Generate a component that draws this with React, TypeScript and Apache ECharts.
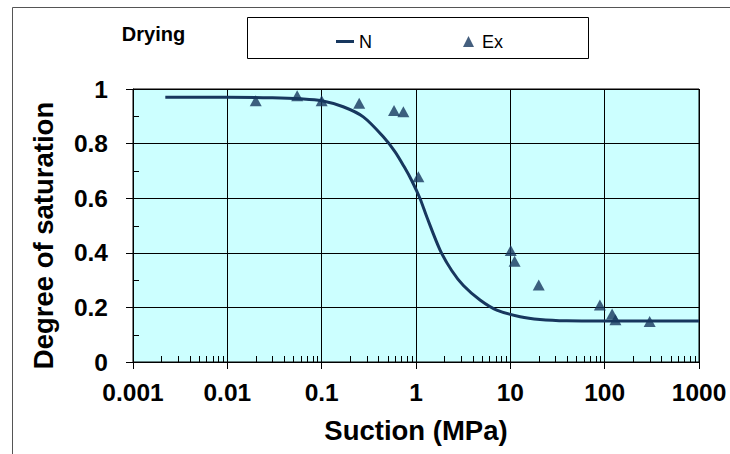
import React, { useEffect, useRef } from 'react';
import * as echarts from 'echarts';

// Fitted curve "N"
const curveX = [0.0022, 0.01, 0.03, 0.06, 0.1, 0.169, 0.276, 0.45, 0.6, 0.75, 0.9, 1.1, 1.3, 1.8, 2.39, 3.18, 4.77, 7.18, 12.7, 20.6, 39.6, 100, 1000];
const curveY = [0.970, 0.970, 0.968, 0.964, 0.957, 0.935, 0.898, 0.825, 0.77, 0.715, 0.665, 0.60, 0.532, 0.41, 0.335, 0.28, 0.227, 0.19, 0.166, 0.156, 0.151, 0.150, 0.150];

// Experimental points "Ex"
const exX = [0.02, 0.055, 0.1, 0.25, 0.585, 0.735, 1.06, 10.1, 11.1, 20, 89, 120, 130, 300];
const exY = [0.957, 0.975, 0.957, 0.948, 0.921, 0.917, 0.679, 0.408, 0.369, 0.282, 0.209, 0.176, 0.155, 0.148];

const xTickLabels = ['0.001', '0.01', '0.1', '1', '10', '100', '1000'];
const yTickLabels = ['0', '0.2', '0.4', '0.6', '0.8', '1'];
const decades = [0.001, 0.01, 0.1, 1, 10, 100];
const minorMultipliers = [2, 3, 4, 5, 6, 7, 8, 9];
const yMinorTicks = [0.1, 0.3, 0.5, 0.7, 0.9];

const FONT = "'Liberation Sans', Arial, sans-serif";
const NAVY = '#17375e';

export default function App() {
  const ref = useRef<HTMLDivElement>(null);
  useEffect(() => {
    document.body.style.margin = '0';
    const chart = echarts.init(ref.current!, null, { renderer: 'svg' });
    const xMinor: number[] = [];
    decades.forEach((d) => minorMultipliers.forEach((m) => xMinor.push(d * m)));

    chart.setOption({
      animation: false,
      backgroundColor: '#ffffff',
      grid: {
        left: 133, right: 31, top: 89, bottom: 92,
        show: true, backgroundColor: '#CCFFFF', borderColor: '#000', borderWidth: 1,
      },
      xAxis: {
        type: 'log', logBase: 10, min: 0.001, max: 1000,
        name: 'Suction (MPa)', nameLocation: 'middle', nameGap: 54,
        nameTextStyle: { fontSize: 27.5, fontWeight: 'bold', fontFamily: FONT, color: '#000' },
        axisLine: { show: true, onZero: false, lineStyle: { color: '#000', width: 1 } },
        axisTick: { show: true, length: 7, lineStyle: { color: '#000' } },
        minorTick: { show: false },
        splitLine: { show: true, lineStyle: { color: '#000', width: 1 } },
        axisLabel: {
          margin: 18, fontSize: 24.5, fontWeight: 'bold', fontFamily: FONT, color: '#000',
          formatter: (v: number) => xTickLabels[Math.round(Math.log10(v)) + 3] ?? String(v),
        },
      },
      yAxis: {
        type: 'value', min: 0, max: 1, interval: 0.2,
        name: 'Degree of saturation', nameLocation: 'middle', nameGap: 76,
        nameTextStyle: { fontSize: 27.5, fontWeight: 'bold', fontFamily: FONT, color: '#000', padding: [0, 20, 0, 0] },
        axisLine: { show: true, lineStyle: { color: '#000', width: 1 } },
        axisTick: { show: true, length: 7, lineStyle: { color: '#000' } },
        splitLine: { show: true, lineStyle: { color: '#000', width: 1 } },
        axisLabel: {
          margin: 25, fontSize: 24.5, fontWeight: 'bold', fontFamily: FONT, color: '#000',
          formatter: (v: number) => yTickLabels[Math.round(v / 0.2)] ?? String(v),
        },
      },
      legend: [
        {
          data: [{ name: 'N', icon: 'path://M0,0 L18,0 L18,3 L0,3 Z' }],
          left: 336, top: 32.5, padding: 0, itemWidth: 18, itemHeight: 11,
          symbolKeepAspect: true, selectedMode: false,
          textStyle: { fontSize: 18, fontFamily: FONT, color: '#000' },
        },
        {
          data: ['Ex'], left: 463, top: 32.5, padding: 0, itemWidth: 11, itemHeight: 11,
          selectedMode: false,
          textStyle: { fontSize: 18, fontFamily: FONT, color: '#000', padding: [0, 0, 0, 3] },
        },
      ],
      graphic: [
        {
          type: 'rect', silent: true,
          shape: { x: 12.5, y: 7.5, width: 720, height: 470 },
          style: { fill: 'none', stroke: '#555', lineWidth: 1 },
        },
        {
          type: 'rect', silent: true,
          shape: { x: 247.5, y: 17.5, width: 341, height: 41 },
          style: { fill: '#fff', stroke: '#000', lineWidth: 1 },
        },
        {
          type: 'text', x: 153.5, y: 34,
          style: { text: 'Drying', fontSize: 20, fontWeight: 'bold', fontFamily: FONT, fill: '#000', align: 'center', verticalAlign: 'middle' },
        },
      ],
      series: [
        {
          name: 'N', type: 'line', smooth: 0.3, symbol: 'none', showSymbol: false,
          data: curveX.map((x, i) => [x, curveY[i]]),
          lineStyle: { color: NAVY, width: 3 }, itemStyle: { color: NAVY }, z: 3,
        },
        {
          name: 'Ex', type: 'scatter', symbol: 'triangle', symbolSize: [12, 11],
          data: exX.map((x, i) => [x, exY[i]]),
          itemStyle: { color: NAVY }, z: 4,
        },
        {
          type: 'custom', silent: true, z: 5,
          data: xMinor.map((v) => [v, 0]),
          renderItem: (params: any, api: any) => {
            const p = api.coord([api.value(0), 0]);
            const x = Math.round(p[0]) + 0.5;
            return { type: 'line', shape: { x1: x, y1: p[1], x2: x, y2: p[1] - 6 }, style: { stroke: '#000', lineWidth: 1 } };
          },
        },
        {
          type: 'custom', silent: true, z: 5,
          data: yMinorTicks.map((v) => [0.001, v]),
          renderItem: (params: any, api: any) => {
            const p = api.coord([api.value(0), api.value(1)]);
            const y = Math.round(p[1]) + 0.5;
            return { type: 'line', shape: { x1: p[0], y1: y, x2: p[0] + 6, y2: y }, style: { stroke: '#000', lineWidth: 1 } };
          },
        },
      ],
    });
    return () => chart.dispose();
  }, []);
  return <div ref={ref} style={{ width: 730, height: 454 }} />;
}
